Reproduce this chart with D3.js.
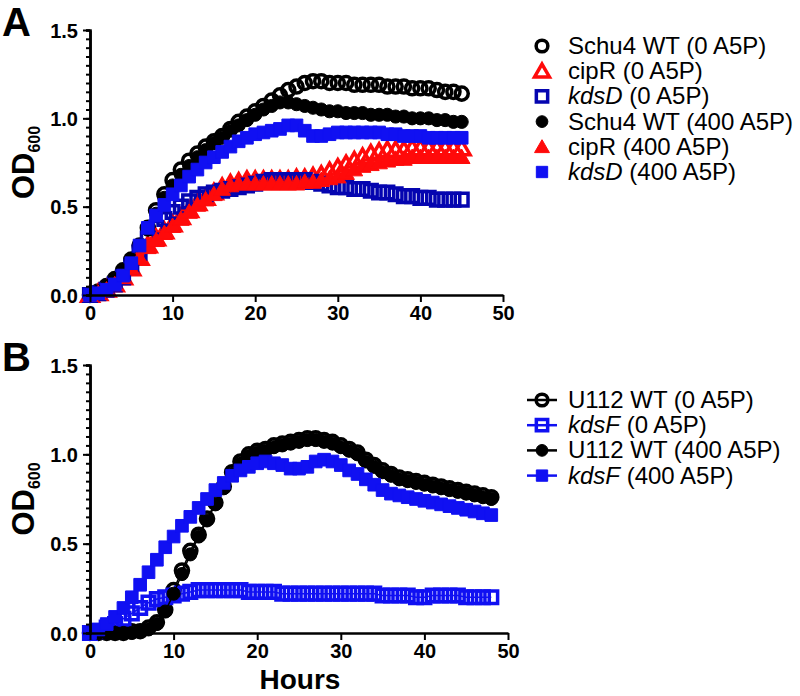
<!DOCTYPE html>
<html>
<head>
<meta charset="utf-8">
<script src="https://cdn.jsdelivr.net/npm/d3@7"></script>
<style>
  body { margin: 0; background: #fff; }
  svg { font-family: "Liberation Sans", Arial, sans-serif; }
</style>
</head>
<body>
<div id="chart"></div>
<script>
(function () {
    // Hours of reading, panel A and panel B
    const hoursA = [0,1,2,3,4,5,6,7,8,9,10,11,12,13,14,15,16,17,18,19,20,21,22,23,24,25,26,27,28,29,30,31,32,33,34,35,36,37,38,39,40,41,42,43,44,45];
    const hoursB = [0,1,2,3,4,5,6,7,8,9,10,11,12,13,14,15,16,17,18,19,20,21,22,23,24,25,26,27,28,29,30,31,32,33,34,35,36,37,38,39,40,41,42,43,44,45,46,47,48];

    // Panel A series (OD600)
    const schu4WT0 = [0.00,0.02,0.05,0.09,0.14,0.20,0.28,0.38,0.48,0.57,0.65,0.71,0.76,0.80,0.84,0.87,0.90,0.94,0.98,1.01,1.04,1.07,1.10,1.13,1.16,1.18,1.20,1.21,1.21,1.20,1.20,1.20,1.19,1.19,1.19,1.19,1.18,1.18,1.18,1.17,1.17,1.17,1.16,1.15,1.15,1.14];
    const cipR0 = [0.00,0.01,0.03,0.06,0.10,0.15,0.21,0.28,0.32,0.36,0.40,0.44,0.48,0.52,0.55,0.58,0.61,0.63,0.64,0.65,0.65,0.65,0.65,0.65,0.65,0.66,0.66,0.67,0.68,0.70,0.72,0.74,0.76,0.78,0.80,0.81,0.82,0.82,0.82,0.83,0.83,0.83,0.83,0.83,0.83,0.83];
    const kdsD0 = [0.00,0.01,0.03,0.06,0.10,0.16,0.24,0.32,0.38,0.43,0.47,0.50,0.53,0.55,0.57,0.58,0.59,0.60,0.61,0.62,0.63,0.64,0.65,0.65,0.65,0.65,0.65,0.64,0.63,0.62,0.61,0.61,0.60,0.60,0.59,0.58,0.58,0.57,0.56,0.56,0.55,0.55,0.54,0.54,0.54,0.54];
    const schu4WT400 = [0.00,0.02,0.05,0.09,0.14,0.20,0.28,0.37,0.46,0.55,0.62,0.68,0.73,0.78,0.82,0.86,0.89,0.93,0.96,0.99,1.02,1.05,1.07,1.09,1.09,1.08,1.07,1.06,1.05,1.04,1.04,1.03,1.03,1.03,1.02,1.02,1.02,1.01,1.01,1.00,1.00,1.00,0.99,0.99,0.98,0.98];
    const cipR400 = [0.00,0.01,0.03,0.06,0.10,0.15,0.21,0.27,0.31,0.35,0.39,0.43,0.47,0.51,0.54,0.57,0.60,0.62,0.63,0.63,0.63,0.63,0.63,0.63,0.63,0.63,0.64,0.64,0.65,0.66,0.67,0.69,0.71,0.73,0.74,0.75,0.76,0.77,0.77,0.78,0.78,0.78,0.78,0.78,0.78,0.78];
    const kdsD400 = [0.00,0.01,0.03,0.06,0.11,0.18,0.28,0.38,0.45,0.51,0.57,0.62,0.67,0.71,0.75,0.78,0.81,0.84,0.87,0.89,0.91,0.92,0.93,0.94,0.96,0.96,0.93,0.90,0.90,0.91,0.92,0.92,0.92,0.92,0.92,0.92,0.91,0.91,0.90,0.90,0.90,0.89,0.89,0.89,0.89,0.89];

    // Panel B series (OD600)
    const u112WT0 = [0.00,0.00,0.00,0.00,0.00,0.01,0.01,0.03,0.06,0.13,0.24,0.35,0.46,0.55,0.64,0.73,0.82,0.90,0.96,1.00,1.02,1.03,1.05,1.06,1.07,1.08,1.09,1.09,1.08,1.07,1.05,1.03,1.01,0.97,0.94,0.91,0.89,0.87,0.86,0.85,0.84,0.83,0.82,0.81,0.80,0.79,0.78,0.77,0.76];
    const kdsF0 = [0.00,0.01,0.03,0.05,0.08,0.11,0.14,0.17,0.19,0.20,0.21,0.22,0.23,0.24,0.24,0.24,0.24,0.24,0.24,0.23,0.23,0.23,0.23,0.22,0.22,0.22,0.22,0.22,0.22,0.22,0.22,0.22,0.22,0.22,0.22,0.21,0.21,0.21,0.21,0.20,0.20,0.21,0.21,0.21,0.21,0.20,0.20,0.20,0.20];
    const u112WT400 = [0.00,0.00,0.00,0.00,0.00,0.00,0.01,0.02,0.05,0.12,0.22,0.33,0.44,0.54,0.63,0.72,0.81,0.89,0.95,0.99,1.01,1.02,1.04,1.05,1.06,1.07,1.08,1.08,1.07,1.06,1.04,1.02,1.00,0.96,0.93,0.90,0.88,0.86,0.85,0.84,0.83,0.82,0.81,0.80,0.79,0.78,0.77,0.76,0.75];
    const kdsF400 = [0.00,0.02,0.05,0.09,0.14,0.20,0.27,0.34,0.41,0.48,0.54,0.60,0.65,0.70,0.75,0.80,0.84,0.88,0.91,0.93,0.95,0.96,0.95,0.94,0.92,0.92,0.93,0.96,0.97,0.96,0.94,0.91,0.89,0.86,0.83,0.80,0.78,0.77,0.76,0.75,0.74,0.73,0.72,0.71,0.70,0.69,0.68,0.67,0.66];

    const xTicks = [0, 10, 20, 30, 40, 50];
    const yTicks = [0, 0.5, 1.0, 1.5];

    const RED = "#ff0a0a", BLUE = "#1010f2", DARKBLUE = "#0505b0";

    const svg = d3.select("#chart").append("svg")
        .attr("width", 800)
        .attr("height", 696);

    // Marker drawing
    function addMarker(g, shape, filled, color, x, y, s) {
        const sizes = { circle: 135 * s, square: 160 * s, triangle: 120 * s };
        const type = shape === "circle" ? d3.symbolCircle
            : shape === "square" ? d3.symbolSquare : d3.symbolTriangle;
        const dy = shape === "triangle" ? 1.5 : 0;
        g.append("path")
            .attr("d", d3.symbol().type(type).size(sizes[shape])())
            .attr("transform", `translate(${x},${y + dy})`)
            .attr("fill", filled ? color : "none")
            .attr("stroke", color)
            .attr("stroke-width", filled ? 1 : 3.5);
    }

    function drawPanel(p) {
        const x = d3.scaleLinear().domain([0, 50]).range([p.left, p.right]);
        const y = d3.scaleLinear().domain([0, 1.5]).range([p.bottom, p.top]);

        const g = svg.append("g");

        // Series
        p.series.forEach(s => {
            const sg = g.append("g");
            if (p.lines) {
                sg.append("path")
                    .datum(s.values)
                    .attr("fill", "none")
                    .attr("stroke", s.color)
                    .attr("stroke-width", 1.5)
                    .attr("d", d3.line().x((d, i) => x(p.hours[i])).y(d => y(d)));
            }
            s.values.forEach((v, i) => addMarker(sg, s.shape, s.filled, s.color, x(p.hours[i]), y(v), 1));
        });

        // Axes
        const xAxis = g.append("g")
            .attr("transform", `translate(0,${p.bottom})`)
            .call(d3.axisBottom(x).tickValues(xTicks).tickSize(7).tickSizeOuter(0).tickPadding(4));
        const yMinor = g.append("g")
            .attr("transform", `translate(${p.left},0)`)
            .call(d3.axisLeft(y).ticks(30).tickSize(4).tickFormat(""));
        const yAxis = g.append("g")
            .attr("transform", `translate(${p.left},0)`)
            .call(d3.axisLeft(y).tickValues(yTicks).tickSize(7).tickSizeOuter(0).tickPadding(5).tickFormat(d3.format(".1f")));

        [xAxis, yAxis, yMinor].forEach(a => {
            a.select(".domain").attr("stroke", "#000").attr("stroke-width", 2.5);
            a.selectAll(".tick line").attr("stroke", "#000").attr("stroke-width", 2);
            a.selectAll(".tick text")
                .attr("fill", "#000")
                .attr("font-size", 20)
                .attr("font-weight", "bold");
        });
        yAxis.selectAll(".tick text").attr("dy", "0.36em");

        // Y label OD600
        const yl = svg.append("text")
            .attr("transform", `translate(${p.left - 56},${(p.top + p.bottom) / 2}) rotate(-90)`)
            .attr("text-anchor", "middle")
            .attr("font-weight", "bold")
            .attr("font-size", 31);
        yl.append("tspan").text("OD");
        yl.append("tspan").attr("font-size", 16).attr("dy", 6).text("600");

        // Panel letter
        svg.append("text")
            .attr("x", 2)
            .attr("y", p.top + 6)
            .attr("font-weight", "bold")
            .attr("font-size", 40)
            .text(p.letter);

        // Legend
        const lg = svg.append("g");
        p.series.forEach((s, i) => {
            const ly = p.legendTop + i * 25.2;
            if (p.lines) {
                lg.append("line")
                    .attr("x1", 527).attr("x2", 557)
                    .attr("y1", ly).attr("y2", ly)
                    .attr("stroke", s.color).attr("stroke-width", 2.5);
            }
            addMarker(lg, s.shape, s.filled, s.color, 542, ly, 0.8);
            const t = lg.append("text")
                .attr("x", 568)
                .attr("y", ly + 8)
                .attr("font-size", 24)
                .attr("fill", "#000");
            t.append("tspan").attr("font-style", s.italic ? "italic" : "normal").text(s.name);
            t.append("tspan").text(s.cond);
        });
    }

    drawPanel({
        letter: "A", left: 90, right: 503, top: 30, bottom: 295,
        hours: hoursA, lines: false, legendTop: 46,
        series: [
            { name: "Schu4 WT", cond: " (0 A5P)", values: schu4WT0, shape: "circle", filled: false, color: "#000" },
            { name: "cipR", cond: " (0 A5P)", values: cipR0, shape: "triangle", filled: false, color: RED },
            { name: "kdsD", cond: " (0 A5P)", italic: true, values: kdsD0, shape: "square", filled: false, color: DARKBLUE },
            { name: "Schu4 WT", cond: " (400 A5P)", values: schu4WT400, shape: "circle", filled: true, color: "#000" },
            { name: "cipR", cond: " (400 A5P)", values: cipR400, shape: "triangle", filled: true, color: RED },
            { name: "kdsD", cond: " (400 A5P)", italic: true, values: kdsD400, shape: "square", filled: true, color: BLUE }
        ]
    });

    drawPanel({
        letter: "B", left: 90, right: 508, top: 365, bottom: 633,
        hours: hoursB, lines: true, legendTop: 400,
        series: [
            { name: "U112 WT", cond: " (0 A5P)", values: u112WT0, shape: "circle", filled: false, color: "#000" },
            { name: "kdsF", cond: " (0 A5P)", italic: true, values: kdsF0, shape: "square", filled: false, color: BLUE },
            { name: "U112 WT", cond: " (400 A5P)", values: u112WT400, shape: "circle", filled: true, color: "#000" },
            { name: "kdsF", cond: " (400 A5P)", italic: true, values: kdsF400, shape: "square", filled: true, color: BLUE }
        ]
    });

    // X label
    svg.append("text")
        .attr("x", 300)
        .attr("y", 689)
        .attr("text-anchor", "middle")
        .attr("font-weight", "bold")
        .attr("font-size", 28)
        .text("Hours");
})();
</script>
</body>
</html>
